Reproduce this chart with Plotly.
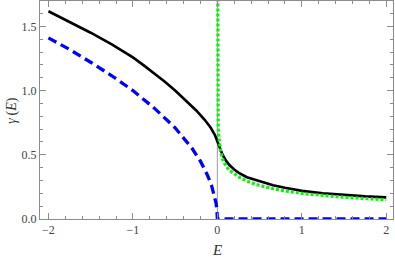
import plotly.graph_objects as go

# Values
E_black = [-2.0, -1.75, -1.5, -1.25, -1.0, -0.875, -0.75, -0.625, -0.5, -0.375, -0.25, -0.15, -0.08,
           -0.03, 0.0, 0.015, 0.03, 0.06, 0.1, 0.14, 0.2, 0.26, 0.35, 0.5, 0.66, 0.8, 1.0, 1.25, 1.5,
           1.75, 2.0]
g_black = [1.617, 1.535, 1.45, 1.36, 1.258, 1.198, 1.135, 1.07, 1.0, 0.925, 0.845, 0.772, 0.712,
           0.655, 0.612, 0.58, 0.552, 0.502, 0.456, 0.422, 0.386, 0.356, 0.325, 0.293, 0.263, 0.243,
           0.219, 0.2, 0.186, 0.176, 0.168]

E_blue = [-2.0, -1.75, -1.5, -1.25, -1.0, -0.75, -0.5, -0.4, -0.3, -0.2, -0.12, -0.07, -0.035, -0.015,
          -0.005, 0.0, 0.5, 1.0, 1.5, 2.0]
g_blue = [1.41, 1.32, 1.22, 1.115, 1.0, 0.865, 0.71, 0.63, 0.55, 0.45, 0.345, 0.265, 0.187, 0.122,
          0.07, 0.0, 0.0, 0.0, 0.0, 0.0]

E_green = [0.0005, 0.002, 0.004, 0.007, 0.01, 0.015, 0.02, 0.03, 0.04, 0.06, 0.08, 0.1, 0.14, 0.2,
           0.26, 0.35, 0.475, 0.66, 0.8, 1.055, 1.25, 1.45, 1.7, 2.0]
g_green = [3.0, 1.6, 1.1, 0.85, 0.72, 0.65, 0.61, 0.56, 0.525, 0.47, 0.44, 0.415, 0.38, 0.35,
           0.325, 0.295, 0.266, 0.235, 0.218, 0.195, 0.182, 0.172, 0.161, 0.15]

x_ticks = [-2, -1, 0, 1, 2]
x_ticklabels = ["\u22122", "\u22121", "0", "1", "2"]
y_ticks = [0.0, 0.5, 1.0, 1.5]
y_ticklabels = ["0.0", "0.5", "1.0", "1.5"]

fig = go.Figure()
fig.add_trace(go.Scatter(x=E_black, y=g_black, mode="lines",
                         line=dict(color="black", width=2.6)))
fig.add_trace(go.Scatter(x=E_blue, y=g_blue, mode="lines",
                         line=dict(color="#0000ff", width=3.3, dash="9px,5px")))
fig.add_trace(go.Scatter(x=E_green, y=g_green, mode="lines",
                         line=dict(color="#11ee11", width=3.2, dash="3px,2px")))

# vertical axis line at E = 0
fig.add_shape(type="line", xref="x", yref="paper", x0=0, x1=0, y0=0, y1=1,
              line=dict(color="#999999", width=1), layer="below")

frame = "#8c8c8c"
tickfont = dict(family="Liberation Serif", size=12, color="#444444")
fig.update_xaxes(range=[-2.1, 2.08], tickvals=x_ticks, ticktext=x_ticklabels,
                 showgrid=False, zeroline=False, showline=True, linecolor=frame, linewidth=1,
                 mirror="allticks", ticks="inside", ticklen=6, tickcolor=frame, tickwidth=1,
                 minor=dict(dtick=0.2, ticks="inside", ticklen=3, tickcolor=frame, showgrid=False),
                 tickfont=tickfont)
fig.update_yaxes(range=[0, 1.697], tickvals=y_ticks, ticktext=y_ticklabels,
                 showgrid=False, zeroline=False, showline=True, linecolor=frame, linewidth=1,
                 mirror="allticks", ticks="inside", ticklen=6, tickcolor=frame, tickwidth=1,
                 minor=dict(dtick=0.1, ticks="inside", ticklen=3, tickcolor=frame, showgrid=False),
                 tickfont=tickfont)

fig.add_annotation(text="<i>E</i>", xref="paper", yref="paper", x=0.5, y=-0.095,
                   xanchor="center", yanchor="top", showarrow=False,
                   font=dict(family="Liberation Serif", size=15, color="#333333"))
fig.add_annotation(text="<i>\u03b3</i>\u2009(<i>E</i>)", xref="paper", yref="paper", x=-0.08, y=0.5,
                   xanchor="center", yanchor="middle", showarrow=False, textangle=-90,
                   font=dict(family="Liberation Serif", size=14, color="#333333"))

fig.update_layout(width=395, height=257, margin=dict(l=40, r=2, t=1, b=38),
                  plot_bgcolor="white", paper_bgcolor="white", showlegend=False)
fig.write_html("out.html", config={"displayModeBar": False},
               post_script="document.body.style.margin='0';")
